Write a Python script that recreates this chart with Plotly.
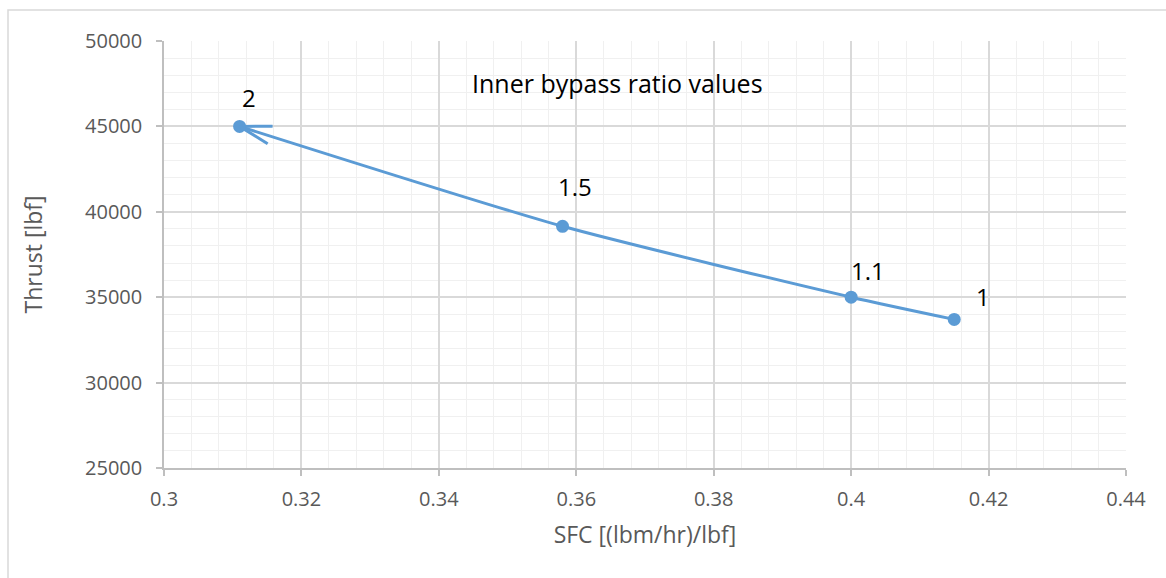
import math
import plotly.graph_objects as go

# Thrust vs. specific fuel consumption for several inner bypass ratios
bypass_labels = ["2", "1.5", "1.1", "1"]
sfc = [0.311, 0.358, 0.400, 0.415]
thrust = [45000, 39150, 35000, 33700]

# label offsets (pixels) relative to each point
label_dx = [9, 12, 17, 29]
label_dy = [29, 40, 27, 23]

x_ticks = [0.3, 0.32, 0.34, 0.36, 0.38, 0.4, 0.42, 0.44]
y_ticks = [25000, 30000, 35000, 40000, 45000, 50000]

W, H = 1166, 578
ML, MR, MT, MB = 164, 40, 41, 110
X_RANGE = [0.3, 0.44]
Y_RANGE = [25000, 50000]
PW = W - ML - MR
PH = H - MT - MB

BLUE = "#5b9bd5"
FONT = "Open Sans"
TICK_COLOR = "#595959"


def to_px(x, y):
    px = ML + (x - X_RANGE[0]) / (X_RANGE[1] - X_RANGE[0]) * PW
    py = MT + (Y_RANGE[1] - y) / (Y_RANGE[1] - Y_RANGE[0]) * PH
    return px, py


def to_data(px, py):
    x = X_RANGE[0] + (px - ML) / PW * (X_RANGE[1] - X_RANGE[0])
    y = Y_RANGE[1] - (py - MT) / PH * (Y_RANGE[1] - Y_RANGE[0])
    return x, y


fig = go.Figure()

fig.add_trace(go.Scatter(
    x=sfc, y=thrust, mode="lines+markers",
    line=dict(color=BLUE, width=3, shape="spline", smoothing=0.6),
    marker=dict(color=BLUE, size=13),
    showlegend=False, hoverinfo="skip",
))

# open arrowhead at the start of the curve (pointing at the first point)
tip = to_px(sfc[0], thrust[0])
nxt = to_px(sfc[1], thrust[1])
ang = math.atan2(nxt[1] - tip[1], nxt[0] - tip[0]) - math.radians(1.5)
arm_len, half = 33, math.radians(16)
for s in (-1, 1):
    ex = tip[0] + arm_len * math.cos(ang + s * half)
    ey = tip[1] + arm_len * math.sin(ang + s * half)
    d0 = to_data(*tip)
    d1 = to_data(ex, ey)
    fig.add_trace(go.Scatter(
        x=[d0[0], d1[0]], y=[d0[1], d1[1]], mode="lines",
        line=dict(color=BLUE, width=3), showlegend=False, hoverinfo="skip",
    ))

for lab, x, y, dx, dy in zip(bypass_labels, sfc, thrust, label_dx, label_dy):
    fig.add_annotation(
        x=x, y=y, text=lab, showarrow=False, xshift=dx, yshift=dy,
        xanchor="center", yanchor="middle",
        font=dict(family=FONT, size=24, color="#000000"),
    )

fig.add_annotation(
    x=(617 - ML) / PW, y=1 - (83 - MT) / PH, xref="paper", yref="paper",
    xanchor="center", yanchor="middle",
    text="Inner bypass ratio values",
    showarrow=False, font=dict(family=FONT, size=25, color="#000000"),
)

# chart border
fig.add_shape(
    type="rect", xref="paper", yref="paper",
    x0=(8 - ML) / PW, x1=(W + 10 - ML) / PW,
    y0=-(H + 10 - MT - PH) / PH, y1=1 + (MT - 10) / PH,
    line=dict(color="#d9d9d9", width=1.5), layer="below",
)

axis_common = dict(
    showline=True, linecolor="#bfbfbf", linewidth=1.5,
    showgrid=True, gridcolor="#d9d9d9", gridwidth=1.5,
    ticks="outside", ticklen=6, tickcolor="#bfbfbf", tickwidth=1.5,
    tickfont=dict(family=FONT, size=20, color=TICK_COLOR),
    zeroline=False,
)

fig.update_xaxes(
    range=X_RANGE, tickvals=x_ticks, ticktext=[f"{v:g}" for v in x_ticks],
    minor=dict(dtick=0.004, showgrid=True, gridcolor="#f0f0f0", gridwidth=1.2, ticks=""),
    title=dict(text="SFC [(lbm/hr)/lbf]", font=dict(family=FONT, size=23, color=TICK_COLOR), standoff=16),
    ticklabelstandoff=6,
    **axis_common,
)
fig.update_yaxes(
    range=Y_RANGE, tickvals=y_ticks, ticktext=[str(v) for v in y_ticks],
    minor=dict(dtick=1000, showgrid=True, gridcolor="#f0f0f0", gridwidth=1.2, ticks=""),
    title=dict(text="Thrust [lbf]", font=dict(family=FONT, size=23, color=TICK_COLOR), standoff=36),
    ticklabelstandoff=10,
    **axis_common,
)

fig.update_layout(
    width=W, height=H,
    margin=dict(l=ML, r=MR, t=MT, b=MB),
    paper_bgcolor="white", plot_bgcolor="white",
)

fig.write_html("out.html")
